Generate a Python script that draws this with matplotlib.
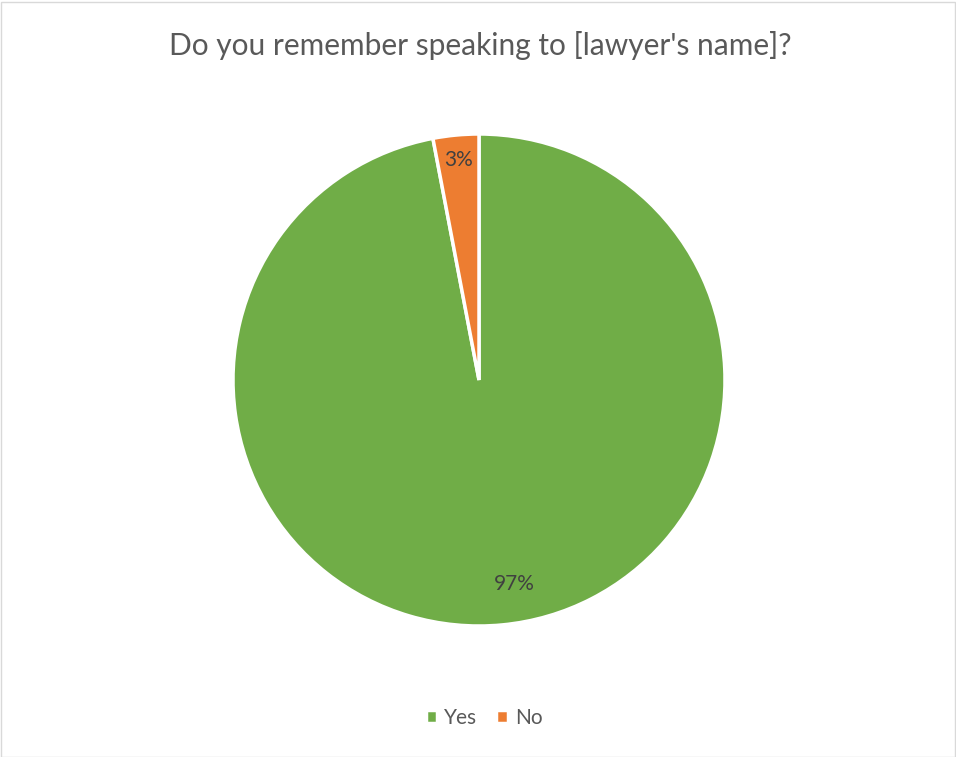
import numpy as np
import matplotlib.pyplot as plt
from matplotlib.patches import Rectangle

# survey answers
labels = ['Yes', 'No']
shares = [97, 3]
colors = ['#70AD47', '#ED7D31']
label_dist = [0.84, 0.9]
label_shift = [4.5, 0]  # degrees, nudges the big label off the seam

plt.rcParams['font.family'] = ['Lato', 'DejaVu Sans']

fig = plt.figure(figsize=(9.56, 7.57), dpi=100)
W, H = 956, 757
cx, cy, r = 479, 380, 246
ax = fig.add_axes([(cx - r) / W, (H - cy - r) / H, 2 * r / W, 2 * r / H])

wedges, _ = ax.pie(shares, colors=colors, startangle=90, counterclock=False,
                   radius=1, wedgeprops=dict(edgecolor='white', linewidth=2.5))
ax.set_xlim(-1, 1)
ax.set_ylim(-1, 1)
ax.set_aspect('equal')
ax.axis('off')

# percentage labels inside each slice
for w, v, d, s in zip(wedges, shares, label_dist, label_shift):
    mid = np.deg2rad((w.theta1 + w.theta2) / 2 + s)
    ax.text(d * np.cos(mid), d * np.sin(mid), f'{v}%', ha='center', va='center',
            fontsize=15, color='#404040')

fig.text(480 / W, 1 - 46 / H, "Do you remember speaking to [lawyer's name]?",
         ha='center', va='center', fontsize=21.5, color='#595959')

fig.legend(wedges, labels, loc='center', bbox_to_anchor=(484 / W, 1 - 718 / H),
           ncol=2, frameon=False, fontsize=15, labelcolor='#595959',
           handlelength=0.55, handleheight=0.55, handletextpad=0.35, columnspacing=0.9)

# light border round the chart area
fig.patches.append(Rectangle((0.5 / W, 0.5 / H), 1 - 2 / W, 1 - 2 / H,
                             transform=fig.transFigure, fill=False,
                             edgecolor='#D9D9D9', linewidth=1))

fig.savefig('out.png', dpi=100)
